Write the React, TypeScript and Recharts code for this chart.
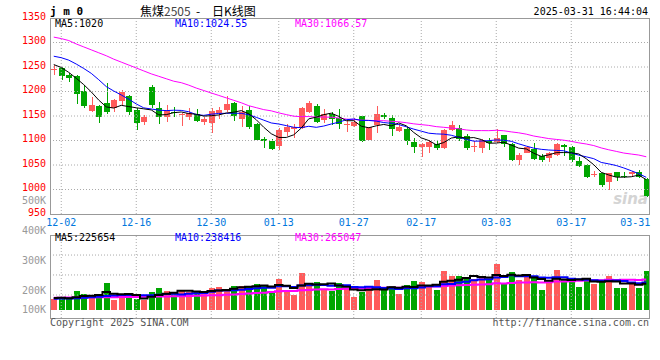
import type { CSSProperties, ReactNode } from 'react'
import { ComposedChart, Bar, Line, XAxis, YAxis, ReferenceLine, Cell } from 'recharts'

// trading days, 11-29 .. 03-31
const dates = [
  '11-29',
  '12-02', '12-03', '12-04', '12-05', '12-06', '12-09', '12-10', '12-11', '12-12', '12-13',
  '12-16', '12-17', '12-18', '12-19', '12-20', '12-23', '12-24', '12-25', '12-26', '12-27',
  '12-30', '12-31', '01-02', '01-03', '01-06', '01-07', '01-08', '01-09', '01-10',
  '01-13', '01-14', '01-15', '01-16', '01-17', '01-20', '01-21', '01-22', '01-23', '01-24',
  '01-27', '02-05', '02-06', '02-07', '02-10', '02-11', '02-12', '02-13', '02-14',
  '02-17', '02-18', '02-19', '02-20', '02-21', '02-24', '02-25', '02-26', '02-27', '02-28',
  '03-03', '03-04', '03-05', '03-06', '03-07', '03-10', '03-11', '03-12', '03-13', '03-14',
  '03-17', '03-18', '03-19', '03-20', '03-21', '03-24', '03-25', '03-26', '03-27', '03-28',
  '03-31',
]

const open = [
  1245, 1247, 1234, 1232, 1201, 1160, 1170, 1177, 1166, 1181,
  1191, 1162, 1138, 1210, 1166, 1147, 1159, 1153, 1147, 1154,
  1137, 1136, 1157, 1162, 1177, 1143, 1162, 1134, 1103, 1098,
  1089, 1118, 1124, 1125, 1159, 1170, 1142, 1154, 1145, 1132,
  1130, 1149, 1102, 1132, 1152, 1145, 1120, 1123, 1096, 1086,
  1087, 1092, 1084, 1121, 1125, 1109, 1086, 1085, 1099, 1096,
  1111, 1092, 1060, 1075, 1082, 1069, 1064, 1070, 1091, 1087,
  1059, 1051, 1030, 1033, 1016, 1036, 1028, 1031, 1036, 1021,
]
const high = [
  1254, 1251, 1237, 1233, 1213, 1189, 1173, 1217, 1185, 1203,
  1193, 1166, 1153, 1213, 1179, 1172, 1168, 1157, 1166, 1164,
  1147, 1166, 1168, 1191, 1178, 1170, 1170, 1136, 1108, 1103,
  1125, 1133, 1133, 1169, 1181, 1174, 1164, 1159, 1164, 1142,
  1146, 1150, 1128, 1170, 1156, 1152, 1133, 1128, 1105, 1094,
  1101, 1098, 1123, 1140, 1132, 1113, 1098, 1104, 1106, 1124,
  1112, 1094, 1074, 1089, 1094, 1072, 1077, 1094, 1093, 1089,
  1067, 1053, 1038, 1034, 1033, 1036, 1036, 1038, 1040, 1023,
]
const low = [
  1234, 1223, 1220, 1174, 1167, 1158, 1136, 1154, 1159, 1172,
  1153, 1121, 1132, 1167, 1134, 1138, 1148, 1130, 1142, 1138,
  1132, 1116, 1144, 1159, 1140, 1128, 1123, 1099, 1084, 1081,
  1081, 1109, 1105, 1123, 1157, 1135, 1135, 1132, 1123, 1118,
  1128, 1096, 1101, 1115, 1143, 1109, 1118, 1091, 1075, 1067,
  1075, 1081, 1082, 1120, 1100, 1081, 1076, 1075, 1081, 1094,
  1087, 1059, 1050, 1074, 1060, 1057, 1057, 1068, 1068, 1057,
  1046, 1024, 1026, 1006, 1000, 1018, 1023, 1028, 1023, 985,
]
const close = [
  1246, 1232, 1227, 1195, 1170, 1172, 1148, 1158, 1183, 1198,
  1159, 1136, 1147, 1172, 1147, 1162, 1156, 1154, 1156, 1140,
  1143, 1160, 1162, 1175, 1149, 1159, 1128, 1101, 1098, 1083,
  1121, 1128, 1128, 1167, 1177, 1138, 1154, 1143, 1134, 1133,
  1138, 1098, 1127, 1154, 1147, 1123, 1128, 1098, 1086, 1092,
  1096, 1084, 1121, 1132, 1104, 1084, 1089, 1101, 1094, 1106,
  1092, 1060, 1070, 1086, 1062, 1060, 1075, 1093, 1087, 1060,
  1048, 1026, 1032, 1009, 1033, 1026, 1026, 1036, 1026, 987,
]
const volume = [
  99000, 112000, 99000, 166000, 141000, 104000, 141000, 234000, 90000, 116000,
  116000, 99000, 90000, 158000, 192000, 166000, 146000, 175000, 158000, 158000,
  141000, 192000, 200000, 175000, 209000, 209000, 209000, 226000, 209000, 166000,
  268000, 175000, 133000, 319000, 234000, 243000, 183000, 166000, 234000, 183000,
  118000, 158000, 183000, 259000, 175000, 209000, 141000, 217000, 251000, 243000,
  209000, 175000, 335000, 293000, 293000, 276000, 268000, 293000, 268000, 395000,
  234000, 327000, 259000, 285000, 293000, 175000, 245000, 344000, 259000, 268000,
  200000, 276000, 226000, 243000, 293000, 192000, 192000, 226000, 192000, 335000,
]

// averages before enough bars exist
const ma5Head = [1255, 1249, 1239, 1227]
const ma10Head = [1272, 1269, 1264, 1256, 1247, 1237, 1224, 1210, 1201]
const ma30Head = [
  1311, 1308, 1304, 1297, 1291, 1285, 1279, 1273, 1266, 1260,
  1254, 1248, 1242, 1236, 1231, 1226, 1221, 1218, 1213, 1207,
  1202, 1197, 1192, 1187, 1182, 1177, 1171, 1167, 1163,
]
const volMa5Head = [106000, 107000, 104000, 112000]
const volMa10Head = [100000, 101000, 101000, 103000, 108000, 112000, 116000, 122000, 126000]
const volMa30Head = [
  108000, 108000, 109000, 110000, 110000, 111000, 112000, 112000, 113000, 114000,
  115000, 115000, 116000, 117000, 118000, 119000, 120000, 121000, 123000, 124000,
  126000, 128000, 130000, 133000, 136000, 139000, 143000, 147000, 151000,
]

const gridDates = ['12-02', '12-16', '12-30', '01-13', '01-27', '02-17', '03-03', '03-17']
const tickDates = [...gridDates, '03-31']
const priceTicks = [950, 1000, 1050, 1100, 1150, 1200, 1250, 1300, 1350]
const priceGrid = [1000, 1050, 1100, 1150, 1200, 1250, 1300]
const volGrid = [131000, 301000, 470000]

const RED = '#ff5b5b'
const GREEN = '#00a600'
const GRID = '#aaaaaa'
const mono = '"DejaVu Sans Mono", "Liberation Mono", monospace'

function movingAvg(values: number[], n: number, head: number[]) {
  return values.map((_, i) => {
    if (i < n - 1) return head[i]
    let s = 0
    for (let j = i - n + 1; j <= i; j++) s += values[j]
    return s / n
  })
}

const ma5 = movingAvg(close, 5, ma5Head)
const ma10 = movingAvg(close, 10, ma10Head)
const ma30 = movingAvg(close, 30, ma30Head)
const vma5 = movingAvg(volume, 5, volMa5Head)
const vma10 = movingAvg(volume, 10, volMa10Head)
const vma30 = movingAvg(volume, 30, volMa30Head)

const priceData = dates.map((d, i) => ({
  date: d,
  range: [low[i], high[i]],
  open: open[i], high: high[i], low: low[i], close: close[i],
  ma5: ma5[i], ma10: ma10[i], ma30: ma30[i],
}))
const volData = dates.map((d, i) => ({
  date: d, vol: volume[i], up: close[i] >= open[i],
  ma5: vma5[i], ma10: vma10[i], ma30: vma30[i],
}))

function Candle(props: any) {
  const { x, y, width, height, payload } = props
  const top0 = Math.min(y, y + height)
  const h = Math.abs(height)
  const { open: o, close: c, high: hi, low: lo } = payload
  const color = c >= o ? RED : GREEN
  const py = (v: number) => top0 + ((hi - v) / (hi - lo)) * h
  const bTop = py(Math.max(o, c))
  const bBot = py(Math.min(o, c))
  const bx = Math.round(x)
  const cx = bx + Math.floor(width / 2) + 0.5
  return (
    <g shapeRendering="crispEdges">
      <line x1={cx} x2={cx} y1={top0} y2={top0 + h} stroke={color} strokeWidth={1} />
      <rect x={bx} y={bTop} width={Math.round(width)} height={Math.max(1, bBot - bTop)} fill={color} />
    </g>
  )
}

function PriceTick({ x, y, payload }: any) {
  return (
    <text x={x} y={y - 2} dy="0.35em" textAnchor="end" fill="#ff0000" fontSize={10} fontFamily={mono}>
      {payload.value}
    </text>
  )
}

function DateTick({ x, y, payload }: any) {
  const last = payload.value === tickDates[tickDates.length - 1]
  return (
    <text x={last ? x + 4 : x} y={y + 8} dy="0.35em" textAnchor={last ? 'end' : 'middle'} fill="#0077dd" fontSize={10} fontFamily={mono}>
      {payload.value}
    </text>
  )
}

function Txt({ x, y, children, color = '#000', size = 10, right = false, family = mono, weight = 400, style }: {
  x: number; y: number; children: ReactNode; color?: string; size?: number; right?: boolean; family?: string; weight?: number; style?: CSSProperties
}) {
  const s: CSSProperties = {
    position: 'absolute', top: y - 7, lineHeight: '14px', fontSize: size, fontFamily: family,
    color, whiteSpace: 'nowrap', fontWeight: weight, ...style,
  }
  if (right) s.right = 660 - x
  else s.left = x
  return <div style={s}>{children}</div>
}

function Frame({ x, y, w, h }: { x: number; y: number; w: number; h: number }) {
  return <div style={{ position: 'absolute', left: x, top: y, width: w, height: h, boxSizing: 'border-box', border: '1px solid #999', pointerEvents: 'none' }} />
}

const cjk = '"Noto Sans CJK SC", sans-serif'

export default function App() {
  return (
    <div style={{ position: 'absolute', left: 0, top: 0, width: 660, height: 360, background: '#fff', overflow: 'hidden' }}>
      <Txt x={648} y={199} right size={15} weight={700} color="#d4d4d4" family="'DejaVu Sans', sans-serif" style={{ fontStyle: 'italic' }}>sina</Txt>

      <div style={{ position: 'absolute', left: 0, top: 0 }}>
        <ComposedChart width={660} height={230} data={priceData} margin={{ top: 18, right: 10, left: 0, bottom: 2 }}>
          {priceGrid.map(v => <ReferenceLine key={v} y={v} stroke={GRID} strokeDasharray="1 2" />)}
          {gridDates.map(d => <ReferenceLine key={d} x={d} stroke={GRID} strokeDasharray="1 2" />)}
          <XAxis dataKey="date" ticks={tickDates} interval={0} tickLine={false} axisLine={false} height={14} tickSize={0} tickMargin={0} tick={<DateTick />} />
          <YAxis domain={[950, 1350]} ticks={priceTicks} width={50} tickLine={false} axisLine={false} tickSize={0} tickMargin={4} allowDataOverflow tick={<PriceTick />} />
          <Bar dataKey="range" barSize={6} isAnimationActive={false} shape={(p: any) => <Candle {...p} />} />
          <Line dataKey="ma30" stroke="#ff00ff" strokeWidth={1} dot={false} activeDot={false} isAnimationActive={false} />
          <Line dataKey="ma10" stroke="#0000ff" strokeWidth={1} dot={false} activeDot={false} isAnimationActive={false} />
          <Line dataKey="ma5" stroke="#000000" strokeWidth={1} dot={false} activeDot={false} isAnimationActive={false} />
        </ComposedChart>
      </div>

      <div style={{ position: 'absolute', left: 0, top: 230 }}>
        <ComposedChart width={660} height={100} data={volData} margin={{ top: 5, right: 10, left: 50, bottom: 12 }}>
          {volGrid.map(v => <ReferenceLine key={v} y={v} stroke={GRID} strokeDasharray="1 2" />)}
          {gridDates.map(d => <ReferenceLine key={d} x={d} stroke={GRID} strokeDasharray="1 2" />)}
          <XAxis dataKey="date" hide />
          <YAxis domain={[-64000, 640000]} allowDataOverflow hide />
          <Bar dataKey="vol" barSize={6} isAnimationActive={false}>
            {volData.map((r, i) => <Cell key={i} fill={r.up ? RED : GREEN} shapeRendering="crispEdges" />)}
          </Bar>
          <Line type="step" dataKey="ma30" stroke="#ff00ff" strokeWidth={2} dot={false} activeDot={false} isAnimationActive={false} />
          <Line type="step" dataKey="ma10" stroke="#0000ff" strokeWidth={2} dot={false} activeDot={false} isAnimationActive={false} />
          <Line type="step" dataKey="ma5" stroke="#000000" strokeWidth={2} dot={false} activeDot={false} isAnimationActive={false} />
        </ComposedChart>
      </div>

      <Frame x={50} y={18} w={600} h={197} />
      <Frame x={50} y={235} w={600} h={84} />

      {/* header */}
      <Txt x={50} y={12} size={11} weight={700}>j m 0</Txt>
      <Txt x={140} y={11} size={12} family={cjk}>焦煤<span style={{ color: '#444' }}>2505</span></Txt>
      <Txt x={196} y={11} size={12} family={cjk}>-</Txt>
      <Txt x={212} y={11} size={12} family={cjk}>日K线图</Txt>
      <Txt x={648} y={12} right>2025-03-31 16:44:04</Txt>

      <Txt x={55} y={24}>MA5:1020</Txt>
      <Txt x={175} y={24} color="#0000ff">MA10:1024.55</Txt>
      <Txt x={295} y={24} color="#ff00ff">MA30:1066.57</Txt>

      <Txt x={46} y={201} right color="#999">500K</Txt>
      <Txt x={46} y={231} right color="#999">400K</Txt>
      <Txt x={46} y={261} right color="#999">300K</Txt>
      <Txt x={46} y={291} right color="#999">200K</Txt>
      <Txt x={46} y={310} right color="#999">100K</Txt>

      <Txt x={55} y={238}>MA5:225654</Txt>
      <Txt x={175} y={238} color="#0000ff">MA10:238416</Txt>
      <Txt x={295} y={238} color="#ff00ff">MA30:265047</Txt>

      <Txt x={50} y={323} color="#555">Copyright 2025 SINA.COM</Txt>
      <Txt x={649} y={323} right color="#555">http://finance.sina.com.cn</Txt>
    </div>
  )
}
